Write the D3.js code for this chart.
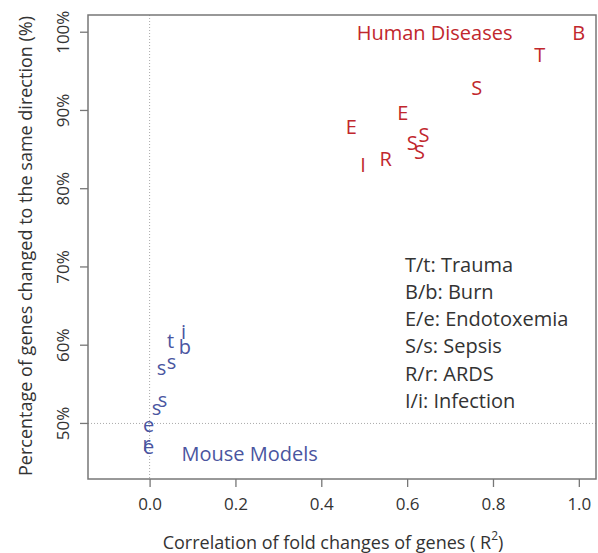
<!DOCTYPE html>
<html><head><meta charset="utf-8">
<script src="https://d3js.org/d3.v7.min.js"></script>
<style>body{margin:0;background:#fff;} svg{display:block;}</style>
</head><body>
<script>
// Human disease points (red, upper case)
const humanLabels = ["B","T","S","E","E","S","S","S","R","I"];
const humanX = [1.0, 0.909, 0.762, 0.590, 0.47, 0.639, 0.612, 0.629, 0.55, 0.497];
const humanY = [100.0, 97.1, 92.9, 89.8, 87.9, 86.9, 85.9, 84.7, 83.8, 83.1];
// Mouse model points (blue, lower case)
const mouseLabels = ["i","b","t","s","s","s","s","e","r","e"];
const mouseX = [0.079, 0.082, 0.049, 0.051, 0.028, 0.030, 0.016, -0.002, -0.007, -0.002];
const mouseY = [61.7, 59.8, 60.6, 57.9, 57.1, 53.1, 52.1, 49.9, 47.5, 47.0];
const xTicks = [0.0, 0.2, 0.4, 0.6, 0.8, 1.0];
const yTicks = [50, 60, 70, 80, 90, 100];
const legendLines = ["T/t: Trauma","B/b: Burn","E/e: Endotoxemia","S/s: Sepsis","R/r: ARDS","I/i: Infection"];

const W = 598, H = 553;
const L = 88, R = 596, T = 15, B = 479;
const FONT = "'Open Sans', sans-serif";
const RED = "#c1272d", BLUE = "#4a559f", TXT = "#333";

const svg = d3.select("body").append("svg").attr("width", W).attr("height", H)
  .style("font-family", FONT);

const x = d3.scaleLinear().domain([-0.1435, 1.04]).range([L, R]);
const y = d3.scaleLinear().domain([42.9, 102.2]).range([B, T]);

// reference lines
svg.append("line").attr("x1", x(0)).attr("x2", x(0)).attr("y1", T).attr("y2", B)
  .attr("stroke", "#aaa").attr("stroke-width", 1).attr("stroke-dasharray", "1,2");
svg.append("line").attr("x1", L).attr("x2", R).attr("y1", y(50)).attr("y2", y(50))
  .attr("stroke", "#aaa").attr("stroke-width", 1).attr("stroke-dasharray", "1,2");

// axes
const xAxis = svg.append("g").attr("transform", `translate(0,${B})`)
  .call(d3.axisBottom(x).tickValues(xTicks).tickFormat(d3.format(".1f")).tickSize(8).tickPadding(11));
const yAxis = svg.append("g").attr("transform", `translate(${L},0)`)
  .call(d3.axisLeft(y).tickValues(yTicks).tickFormat(d => d + "%").tickSize(8).tickPadding(6));
[xAxis, yAxis].forEach(g => {
  g.select(".domain").remove();
  g.selectAll(".tick line").attr("stroke", "#777").attr("stroke-width", 1.3);
  g.selectAll(".tick text").attr("fill", TXT).style("font-size", "17px").style("font-family", FONT);
});
yAxis.selectAll(".tick").attr("transform", null);
yAxis.selectAll(".tick line").attr("y1", d => y(d)).attr("y2", d => y(d));
yAxis.selectAll(".tick text")
  .attr("x", null).attr("dy", null).attr("y", 0)
  .attr("text-anchor", "middle").attr("dominant-baseline", "central")
  .attr("transform", d => `translate(-26,${y(d)}) rotate(-90)`);

// box
svg.append("rect").attr("x", L).attr("y", T).attr("width", R - L).attr("height", B - T)
  .attr("fill", "none").attr("stroke", "#777").attr("stroke-width", 1.5);

// points
svg.append("g").selectAll("text").data(humanLabels).join("text")
  .attr("x", (d, i) => x(humanX[i])).attr("y", (d, i) => y(humanY[i]))
  .attr("text-anchor", "middle").attr("dominant-baseline", "central")
  .attr("fill", RED).style("font-size", "20px").text(d => d);
svg.append("g").selectAll("text").data(mouseLabels).join("text")
  .attr("x", (d, i) => x(mouseX[i])).attr("y", (d, i) => y(mouseY[i]))
  .attr("text-anchor", "middle").attr("dominant-baseline", "central")
  .attr("fill", BLUE).style("font-size", "20px").text(d => d);

// group labels
svg.append("text").attr("x", x(0.664)).attr("y", y(100)).attr("text-anchor", "middle")
  .attr("dominant-baseline", "central").attr("fill", RED).style("font-size", "20px").text("Human Diseases");
svg.append("text").attr("x", x(0.233)).attr("y", y(46.2)).attr("text-anchor", "middle")
  .attr("dominant-baseline", "central").attr("fill", BLUE).style("font-size", "20px").text("Mouse Models");

// legend
svg.append("g").selectAll("text").data(legendLines).join("text")
  .attr("x", 405).attr("y", (d, i) => 264 + i * 27.3)
  .attr("dominant-baseline", "central").attr("fill", TXT).style("font-size", "20px").text(d => d);

// axis titles
const xt = svg.append("text").attr("x", 333).attr("y", 542).attr("text-anchor", "middle")
  .attr("dominant-baseline", "central").attr("fill", TXT).style("font-size", "18px");
xt.append("tspan").text("Correlation of fold changes of genes ( R");
xt.append("tspan").attr("dy", -7).style("font-size", "12px").text("2");
xt.append("tspan").attr("dy", 7).text(")");
svg.append("text").attr("transform", `translate(25,${(T + B) / 2 - 1}) rotate(-90)`)
  .attr("text-anchor", "middle").attr("dominant-baseline", "central").attr("fill", TXT)
  .style("font-size", "18px").text("Percentage of genes changed to the same direction (%)");
</script>
</body></html>
